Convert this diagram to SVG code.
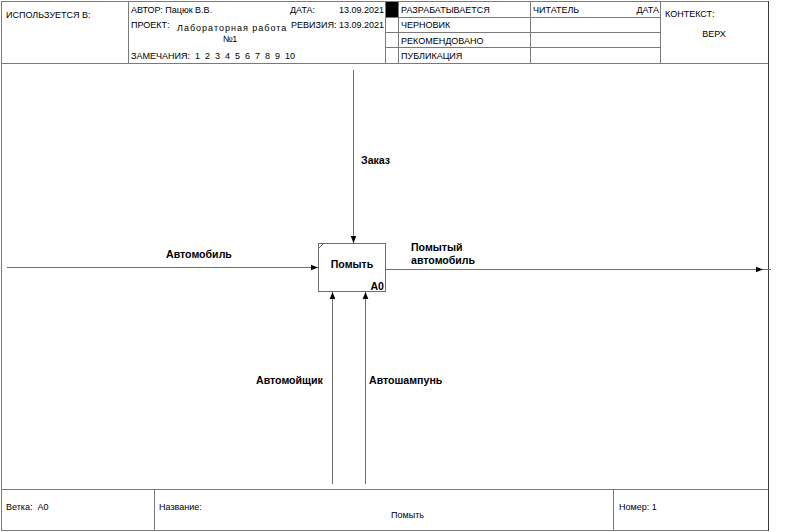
<svg xmlns="http://www.w3.org/2000/svg" width="799" height="532" viewBox="0 0 799 532">
  <defs>
    <marker id="arrow" viewBox="0 0 10 10" refX="10" refY="5" markerWidth="9" markerHeight="7" markerUnits="userSpaceOnUse" orient="auto">
      <path d="M0,1 L10,5 L0,9 Z" fill="#000"/>
    </marker>
    <style>
      .frame { fill: none; stroke: #7a7a7a; stroke-width: 1; }
      .hdr { font-family: "Liberation Sans", Arial, sans-serif; font-size: 9px; fill: #000; white-space: pre; }
      .lbl { font-family: "Liberation Sans", Arial, sans-serif; font-size: 10.6px; font-weight: bold; fill: #000; }
      .conn { fill: none; stroke: #6e6e6e; stroke-width: 1; }
      .box { fill: #fff; stroke: #6e6e6e; stroke-width: 1; }
    </style>
  </defs>
  <rect width="799" height="532" fill="#fff"/>

  <!-- header form -->
  <g id="header">
    <line class="frame" x1="1" y1="1.5" x2="768" y2="1.5"/>
    <line class="frame" x1="1" y1="63.5" x2="768" y2="63.5"/>
    <line class="frame" x1="128.5" y1="1" x2="128.5" y2="63"/>
    <line class="frame" x1="385.5" y1="1" x2="385.5" y2="63"/>
    <line class="frame" x1="398.5" y1="1" x2="398.5" y2="63"/>
    <line class="frame" x1="530.5" y1="1" x2="530.5" y2="63"/>
    <line class="frame" x1="660.5" y1="1" x2="660.5" y2="63"/>
    <line class="frame" x1="385" y1="17.5" x2="660" y2="17.5"/>
    <line class="frame" x1="385" y1="32.5" x2="660" y2="32.5"/>
    <line class="frame" x1="385" y1="47.5" x2="660" y2="47.5"/>
    <rect x="386" y="2" width="12" height="15" fill="#000"/>
    <text class="hdr" x="6" y="18">ИСПОЛЬЗУЕТСЯ В:</text>
    <text class="hdr" x="131" y="13">АВТОР: Пацюк В.В.</text>
    <text class="hdr" x="290" y="13">ДАТА:</text>
    <text class="hdr" x="339" y="13">13.09.2021</text>
    <text class="hdr" x="131" y="28">ПРОЕКТ:</text>
    <text class="hdr" x="177" y="31" letter-spacing="1">Лабораторная работа</text>
    <text class="hdr" x="230" y="42" text-anchor="middle">№1</text>
    <text class="hdr" x="291" y="28">РЕВИЗИЯ:</text>
    <text class="hdr" x="339" y="28">13.09.2021</text>
    <text class="hdr" x="131" y="59">ЗАМЕЧАНИЯ:  1  2  3  4  5  6  7  8  9  10</text>
    <text class="hdr" x="401" y="13">РАЗРАБАТЫВАЕТСЯ</text>
    <text class="hdr" x="401" y="28">ЧЕРНОВИК</text>
    <text class="hdr" x="401" y="44">РЕКОМЕНДОВАНО</text>
    <text class="hdr" x="401" y="59">ПУБЛИКАЦИЯ</text>
    <text class="hdr" x="533" y="13">ЧИТАТЕЛЬ</text>
    <text class="hdr" x="659" y="13" text-anchor="end">ДАТА</text>
    <text class="hdr" x="665" y="17">КОНТЕКСТ:</text>
    <text class="hdr" x="714" y="37" text-anchor="middle">ВЕРХ</text>
  </g>

  <!-- outer side borders -->
  <g id="border">
    <line class="frame" x1="1.5" y1="1" x2="1.5" y2="531"/>
    <line x1="768.5" y1="1" x2="768.5" y2="531" stroke="#3a3a3a" stroke-width="1"/>
  </g>

  <!-- footer form -->
  <g id="footer">
    <line class="frame" x1="1" y1="489.5" x2="768" y2="489.5"/>
    <line class="frame" x1="1" y1="530.5" x2="768" y2="530.5"/>
    <line class="frame" x1="154.5" y1="489" x2="154.5" y2="531"/>
    <line class="frame" x1="613.5" y1="489" x2="613.5" y2="531"/>
    <text class="hdr" x="6" y="510">Ветка:  A0</text>
    <text class="hdr" x="159" y="510">Название:</text>
    <text class="hdr" x="391" y="518">Помыть</text>
    <text class="hdr" x="619" y="510">Номер: 1</text>
  </g>

  <!-- function block A0 -->
  <g id="A0">
    <rect class="box" x="318.5" y="243.5" width="67" height="48"/>
    <line x1="319" y1="248" x2="323" y2="244" stroke="#6e6e6e" stroke-width="1"/>
    <text class="lbl" x="352" y="268" text-anchor="middle">Помыть</text>
    <text class="lbl" x="384" y="290" text-anchor="end">A0</text>
  </g>

  <!-- arrows -->
  <g id="connectors">
    <line class="conn" x1="353.5" y1="70" x2="353.5" y2="243" marker-end="url(#arrow)"/>
    <line class="conn" x1="7" y1="267.5" x2="318" y2="267.5" marker-end="url(#arrow)"/>
    <line class="conn" x1="386" y1="269.5" x2="763" y2="269.5" marker-end="url(#arrow)"/>
    <line class="conn" x1="763" y1="269.5" x2="771" y2="269.5"/>
    <line class="conn" x1="332.5" y1="484" x2="332.5" y2="292" marker-end="url(#arrow)"/>
    <line class="conn" x1="365.5" y1="484" x2="365.5" y2="292" marker-end="url(#arrow)"/>
    <text class="lbl" x="361" y="164">Заказ</text>
    <text class="lbl" x="166" y="258">Автомобиль</text>
    <text class="lbl" x="411" y="251">Помытый</text>
    <text class="lbl" x="411" y="264">автомобиль</text>
    <text class="lbl" x="256" y="384">Автомойщик</text>
    <text class="lbl" x="369" y="384">Автошампунь</text>
  </g>
</svg>
